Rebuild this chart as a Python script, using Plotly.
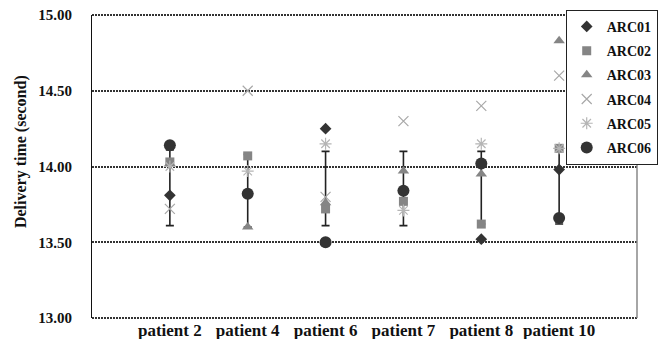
import plotly.graph_objects as go

patients = ["patient 2", "patient 4", "patient 6", "patient 7", "patient 8", "patient 10"]

arc01 = [13.81, 13.82, 14.25, 13.84, 13.52, 13.98]
arc02 = [14.03, 14.07, 13.72, 13.77, 13.62, 14.12]
arc03 = [14.02, 13.60, 13.76, 13.97, 13.95, 14.83]
arc04 = [13.72, 14.50, 13.80, 14.30, 14.40, 14.60]
arc05 = [14.00, 13.97, 14.15, 13.71, 14.15, 14.12]
arc06 = [14.14, 13.82, 13.50, 13.84, 14.02, 13.66]

bar_low = [13.61, 13.60, 13.61, 13.61, 13.62, 13.62]
bar_high = [14.11, 14.08, 14.10, 14.10, 14.10, 14.12]

y_title = "Delivery time (second)"

series = [
    ("ARC01", arc01, "diamond", "#333333", 9),
    ("ARC02", arc02, "square", "#858585", 9),
    ("ARC03", arc03, "triangle-up", "#858585", 10),
    ("ARC04", arc04, "x-thin-open", "#a8a8a8", 10),
    ("ARC05", arc05, "asterisk-open", "#b5b5b5", 10),
    ("ARC06", arc06, "circle", "#333333", 12),
]

serif = "Times New Roman"
grid_dash = "2px,1px"

fig = go.Figure()

mid = [(a + b) / 2 for a, b in zip(bar_low, bar_high)]
half = [(b - a) / 2 for a, b in zip(bar_low, bar_high)]
fig.add_trace(go.Scatter(
    x=patients, y=mid, mode="markers",
    marker=dict(size=1, opacity=0),
    error_y=dict(type="data", array=half, visible=True, color="#222222", thickness=1.6, width=4),
    showlegend=False, hoverinfo="skip",
))

for name, vals, sym, col, size in series:
    fig.add_trace(go.Scatter(
        x=patients, y=vals, mode="markers", name=name, legendgroup=name,
        marker=dict(symbol=sym, color=col, size=size,
                    line=dict(color=col, width=1.2 if "open" in sym else 0)),
    ))

fig.update_layout(
    width=659, height=339,
    margin=dict(l=92, r=22, t=15, b=21, autoexpand=False),
    paper_bgcolor="white", plot_bgcolor="white",
    font=dict(family=serif, color="#111111"),
    showlegend=True,
    legend=dict(
        x=1.038, y=1.017, xanchor="right", yanchor="top",
        bgcolor="white", bordercolor="#222222", borderwidth=1,
        font=dict(family=serif, size=14, weight="bold"),
        tracegroupgap=3, itemwidth=30,
    ),
)

fig.update_xaxes(
    type="category", range=[-1, 6], showgrid=False,
    tickfont=dict(family=serif, size=17, weight="bold", color="#111111"),
    showline=False, ticks="",
)
fig.update_yaxes(
    range=[13, 15], tickvals=[13, 13.5, 14, 14.5, 15], tickformat=".2f",
    showgrid=True, gridcolor="#333333", gridwidth=2, griddash=grid_dash,
    showline=True, linecolor="#111111", linewidth=1.2,
    zeroline=False, ticks="", ticklabelstandoff=16,
    tickfont=dict(family=serif, size=15, weight="bold", color="#111111"),
)

fig.add_annotation(
    text=y_title, xref="paper", yref="paper", x=-0.13, y=0.548,
    xanchor="center", yanchor="middle", textangle=-90, showarrow=False,
    font=dict(family=serif, size=16, weight="bold", color="#111111"),
)

for yv in (0, 1):
    fig.add_shape(type="line", xref="paper", yref="paper", x0=0, x1=1, y0=yv, y1=yv,
                  line=dict(color="#333333", width=2, dash=grid_dash), layer="below")
fig.add_shape(type="line", xref="paper", yref="paper", x0=1, x1=1, y0=0, y1=1,
              line=dict(color="#888888", width=1.5))

fig.write_html("out.html", config={"displayModeBar": False},
               post_script="document.body.style.margin='0';document.body.style.overflow='hidden';")
